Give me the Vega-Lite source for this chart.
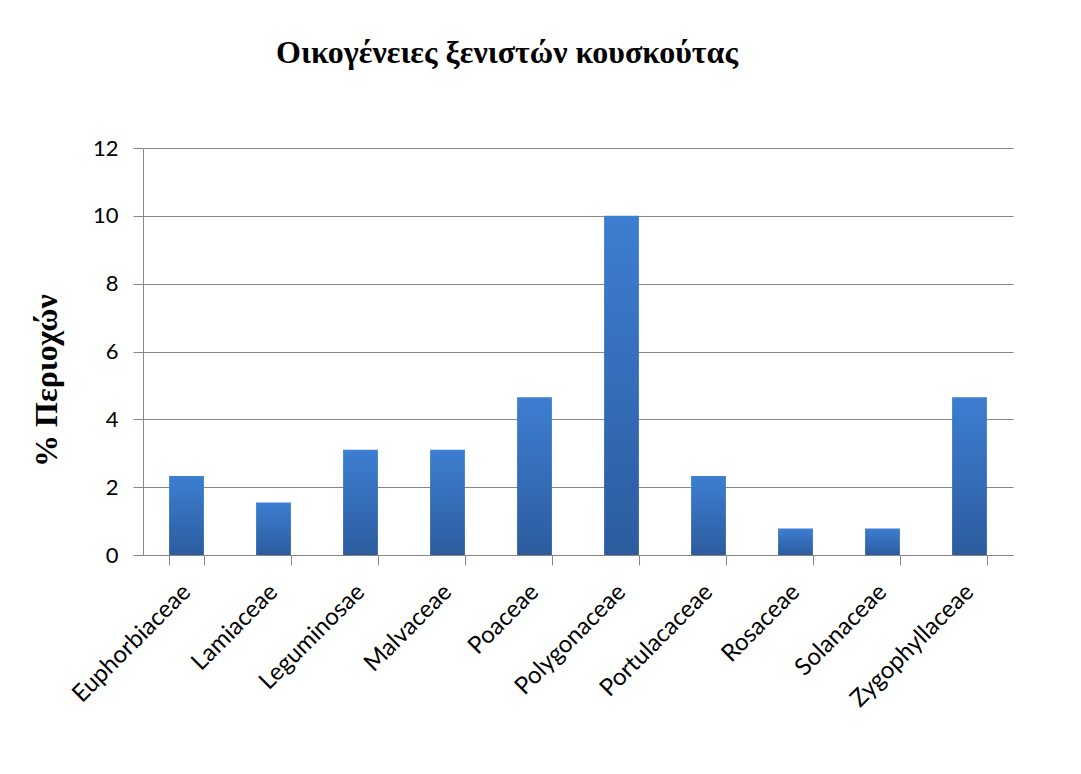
{
  "$schema": "https://vega.github.io/schema/vega-lite/v6.json",
  "width": 870,
  "height": 407,
  "autosize": "none",
  "padding": {"left": 143, "top": 148, "right": 68, "bottom": 219},
  "background": "white",
  "title": {
    "text": "Οικογένειες ξενιστών κουσκούτας",
    "font": "Liberation Serif",
    "fontSize": 32,
    "fontWeight": "bold",
    "color": "black",
    "anchor": "middle",
    "dx": -71,
    "offset": 67
  },
  "data": {
    "values": [
      {"family": "Euphorbiaceae", "pct": 2.33},
      {"family": "Lamiaceae", "pct": 1.55},
      {"family": "Leguminosae", "pct": 3.1},
      {"family": "Malvaceae", "pct": 3.1},
      {"family": "Poaceae", "pct": 4.65},
      {"family": "Polygonaceae", "pct": 10},
      {"family": "Portulacaceae", "pct": 2.33},
      {"family": "Rosaceae", "pct": 0.78},
      {"family": "Solanaceae", "pct": 0.78},
      {"family": "Zygophyllaceae", "pct": 4.65}
    ]
  },
  "mark": {
    "type": "bar",
    "color": {
      "gradient": "linear",
      "x1": 0, "y1": 0, "x2": 0, "y2": 1,
      "stops": [
        {"offset": 0, "color": "#3d7ed2"},
        {"offset": 1, "color": "#2c5c9e"}
      ]
    }
  },
  "encoding": {
    "x": {
      "field": "family",
      "type": "nominal",
      "sort": null,
      "scale": {"paddingInner": 0.6, "paddingOuter": 0.3},
      "axis": {
        "title": null,
        "labelAngle": -45,
        "labelAlign": "right",
        "labelBaseline": "middle",
        "labelFont": "Lato",
        "labelFontSize": 24,
        "labelColor": "black",
        "labelPadding": 23,
        "tickBand": "extent",
        "tickSize": 10,
        "tickColor": "#868686",
        "domainColor": "#868686",
        "grid": false
      }
    },
    "y": {
      "field": "pct",
      "type": "quantitative",
      "scale": {"domain": [0, 12]},
      "axis": {
        "title": "% Περιοχών",
        "titleFont": "Liberation Serif",
        "titleFontSize": 32,
        "titleFontWeight": "bold",
        "titleColor": "black",
        "titleX": -80,
        "titleY": 232,
        "values": [0, 2, 4, 6, 8, 10, 12],
        "labelFont": "Lato",
        "labelFontSize": 22,
        "labelColor": "black",
        "labelPadding": 15,
        "tickSize": 10,
        "tickColor": "#868686",
        "domainColor": "#868686",
        "gridColor": "#868686",
        "gridOpacity": 1
      }
    }
  },
  "config": {
    "view": {"stroke": null}
  }
}
